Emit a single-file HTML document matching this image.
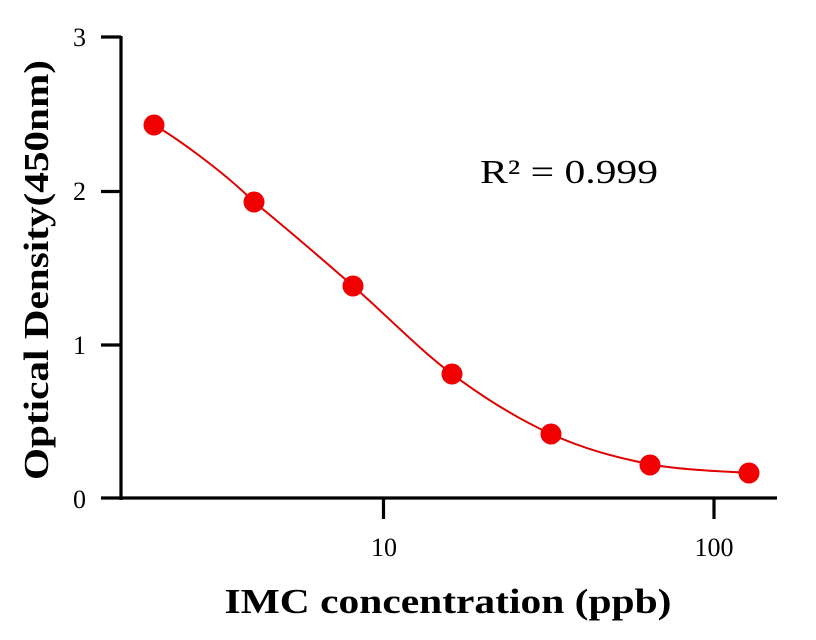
<!DOCTYPE html>
<html><head><meta charset="utf-8"><style>html,body{margin:0;padding:0;background:#fff}svg{display:block}text{font-family:"Liberation Serif","Times New Roman",serif}</style></head>
<body>
<svg width="816" height="640" viewBox="0 0 816 640" xmlns="http://www.w3.org/2000/svg">
<g stroke="#000" stroke-width="3.2" fill="none">
<line x1="121" y1="36" x2="121" y2="500"/>
<line x1="101" y1="498" x2="777" y2="498"/>
<line x1="101" y1="37" x2="121" y2="37"/>
<line x1="101" y1="191.5" x2="121" y2="191.5"/>
<line x1="101" y1="345" x2="121" y2="345"/>
<line x1="383.5" y1="498" x2="383.5" y2="519"/>
<line x1="714" y1="498" x2="714" y2="519"/>
</g>
<g style="font-size:26px" fill="#000" text-anchor="end">
<text x="86" y="46">3</text>
<text x="86" y="200">2</text>
<text x="86" y="354">1</text>
<text x="86" y="508">0</text>
</g>
<g style="font-size:26px" fill="#000" text-anchor="middle">
<text x="384" y="556">10</text>
<text x="714" y="556">100</text>
</g>
<text x="448" y="613" style="font-size:35px;font-weight:bold" text-anchor="middle" textLength="447" lengthAdjust="spacingAndGlyphs">IMC concentration (ppb)</text>
<text transform="translate(48,270) rotate(-90)" style="font-size:35px;font-weight:bold" text-anchor="middle" textLength="420" lengthAdjust="spacingAndGlyphs">Optical Density(450nm)</text>
<text x="480" y="183" style="font-size:34px" textLength="178" lengthAdjust="spacingAndGlyphs">R² = 0.999</text>
<path d="M154,125 C172,135 222,170 254,202 C287.2,228.8 320,257.3 353,286 C386,314.7 419,349.3 452,374 C485,398.7 518.2,419 551,434 C583.8,449 616.2,457.5 649,464 C681.8,470.5 731.5,471.5 748,473" stroke="#e00000" stroke-width="2" fill="none"/>
<g fill="#f00000">
<circle cx="154" cy="125" r="10.5"/>
<circle cx="254" cy="202" r="10.5"/>
<circle cx="353" cy="286" r="10.5"/>
<circle cx="452" cy="374" r="10.5"/>
<circle cx="551" cy="434" r="10.5"/>
<circle cx="650" cy="465" r="10.5"/>
<circle cx="749" cy="473" r="10.5"/>
</g>
</svg>
</body></html>
